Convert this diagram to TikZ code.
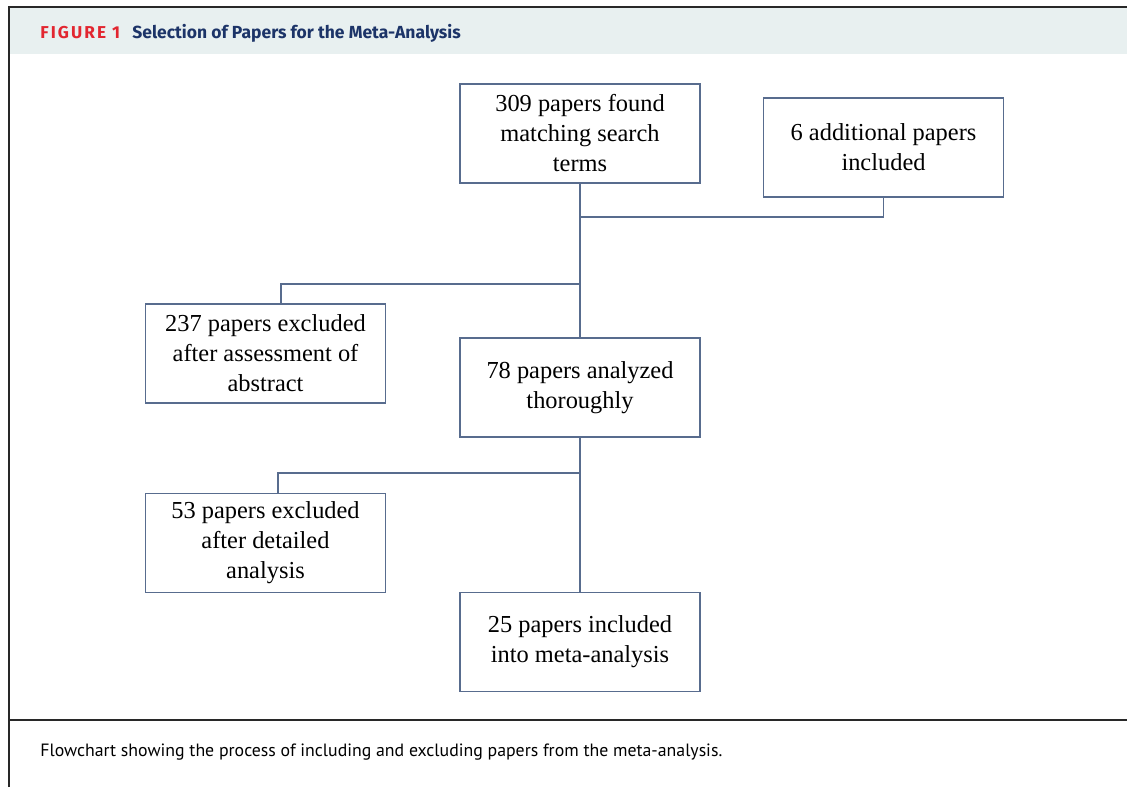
\documentclass[tikz,border=0pt]{standalone}
\usepackage{fontspec}
\setmainfont{Liberation Serif}
\newfontfamily\headfont{Fira Sans}
\newfontfamily\capfont{PT Sans}
\usetikzlibrary{calc}
\definecolor{linecol}{RGB}{88,108,142}
\definecolor{headfill}{RGB}{232,240,240}
\definecolor{figred}{RGB}{226,38,48}
\definecolor{navy}{RGB}{28,52,104}
\definecolor{framecol}{RGB}{40,40,40}
\tikzset{
  paperbox/.style={draw=linecol, line width=0.8pt, fill=white, align=center,
    minimum width=120pt, minimum height=49.5pt, inner sep=0pt,
    font=\fontsize{12.2}{15}\selectfont},
  link/.style={draw=linecol, line width=0.8pt},
}
\begin{document}
\begin{tikzpicture}[x=0.5pt,y=-0.5pt]
    \useasboundingbox (0,0) rectangle (1127,787);
    % frame and header
    \fill[headfill] (9,7) rectangle (1127,54);
    \draw[framecol,line width=1pt] (9,787) -- (9,7) -- (1127,7);
    \draw[framecol,line width=1pt] (9,720) -- (1127,720);
    \node(figno)  [anchor=west,inner sep=0pt,text=figred,font=\headfont\bfseries\fontsize{8.6}{10}\selectfont\addfontfeatures{LetterSpace=12}] at (40,33) {FIGURE 1};
    \node(title)  [anchor=west,inner sep=0pt,text=navy,font=\headfont\bfseries\fontsize{8.75}{10}\selectfont] at (132,33) {Selection of Papers for the Meta-Analysis};
    \node(caption)[anchor=west,inner sep=0pt,font=\capfont\fontsize{8.9}{10}\selectfont] at (40,752) {Flowchart showing the process of including and excluding papers from the meta-analysis.};

    \node(found)    [paperbox] at (580,133.5) {309 papers found\\matching search\\terms};
    \node(extra)    [paperbox] at (883.5,147.5) {6 additional papers\\included};
    \node(abstract) [paperbox] at (265.5,353.5) {237 papers excluded\\after assessment of\\abstract};
    \node(analyzed) [paperbox] at (580,387.5) {78 papers analyzed\\thoroughly};
    \node(detailed) [paperbox] at (265.5,543) {53 papers excluded\\after detailed\\analysis};
    \node(included) [paperbox] at (580,642) {25 papers included\\into meta-analysis};

    \coordinate(join)  at (580,217);
    \coordinate(split1) at (580,284);
    \coordinate(split2) at (580,473);

    \draw[link] (found) -- (analyzed);
    \draw[link] (analyzed) -- (included);
    \draw[link] (extra) |- (join);
    \draw[link] (split1) -| ($(abstract.north)+(15.5,0)$);
    \draw[link] (split2) -| ($(detailed.north)+(12.5,0)$);
\end{tikzpicture}
\end{document}
